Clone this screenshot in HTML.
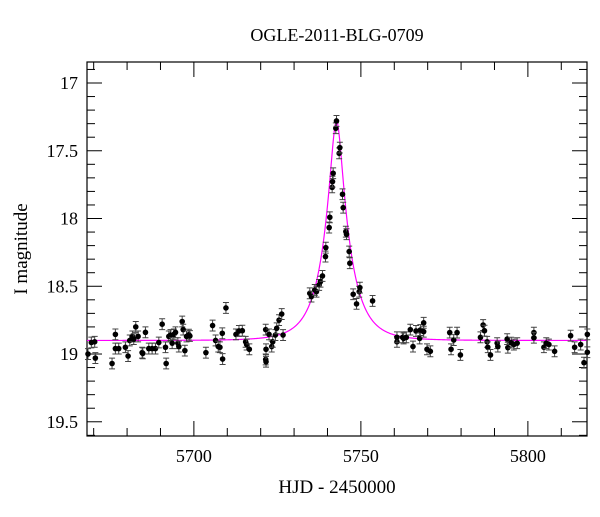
<!DOCTYPE html>
<html><head><meta charset="utf-8"><style>
html,body{margin:0;padding:0;background:#fff;}
svg text{font-family:"Liberation Serif",serif;fill:#000;}
</style></head><body>
<svg id="chart" width="600" height="512" xmlns="http://www.w3.org/2000/svg">
<text x="337" y="41" font-size="18" text-anchor="middle">OGLE-2011-BLG-0709</text>
<text x="337" y="493" font-size="19" text-anchor="middle">HJD - 2450000</text>
<text transform="translate(27,249) rotate(-90)" font-size="19" text-anchor="middle">I magnitude</text>
<g id="plot"></g>
</svg>
<script>
const days=[5668.3,5669.3,5670.3,5670.5,5675.5,5676.5,5676.5,5677.5,5679.5,5680.3,5680.8,5681.6,5682.0,5682.6,5683.3,5684.5,5684.7,5685.5,5686.5,5687.5,5688.5,5689.5,5690.5,5691.5,5691.7,5692.5,5693.0,5693.5,5694.0,5694.5,5695.2,5695.5,5696.5,5696.8,5697.3,5697.8,5698.5,5698.8,5703.6,5705.6,5706.5,5707.3,5707.8,5708.5,5708.6,5709.6,5712.6,5713.5,5714.5,5715.5,5715.8,5716.6,5721.5,5721.6,5721.5,5721.6,5722.5,5723.3,5723.6,5724.4,5724.8,5725.5,5726.3,5726.7,
5734.7,5735.2,5736.2,5736.7,5737.5,5737.9,5738.5,5739.4,5739.5,5740.5,5740.7,5741.4,5741.5,5741.7,5742.5,5742.7,5743.5,5743.7,5744.5,5744.7,5745.5,5745.7,5746.5,5746.7,5747.7,5748.7,5749.5,5749.7,5753.5,
5760.8,5760.8,5762.5,5762.8,5763.6,5764.8,5765.6,5766.5,5767.6,5767.8,5768.8,5768.8,5769.8,5770.8,5776.6,5777.0,5777.8,5778.8,5779.8,5785.8,5786.6,5787.0,5787.8,5788.0,5788.8,5790.8,5791.0,5793.8,5794.0,5795.0,5795.8,5796.8,5801.8,5801.8,5804.8,5805.5,5806.3,5808.0,5812.8,5814.0,5815.8,5816.8,5817.8,5817.8];
const mags=[19.00,18.915,18.91,19.03,19.07,18.855,18.96,18.96,18.95,19.015,18.90,18.87,18.89,18.80,18.87,18.99,18.995,18.84,18.96,18.96,18.96,18.915,18.78,18.95,19.07,18.87,18.86,18.92,18.855,18.84,18.92,18.945,18.76,18.82,18.975,18.87,18.857,18.867,18.99,18.79,18.90,18.945,18.95,18.847,19.037,18.66,18.855,18.83,18.828,18.91,18.93,18.965,18.82,18.965,19.04,19.057,18.855,18.945,18.91,18.86,18.81,18.75,18.705,18.86,
18.552,18.576,18.527,18.54,18.49,18.466,18.424,18.281,18.215,18.067,17.991,17.77,17.728,17.666,17.334,17.28,17.519,17.477,17.821,17.92,18.097,18.116,18.244,18.33,18.559,18.63,18.54,18.51,18.608,
18.91,18.877,18.877,18.885,18.877,18.82,18.945,18.83,18.885,18.823,18.77,18.835,18.965,18.98,18.842,18.965,18.897,18.842,19.007,18.877,18.786,18.828,18.91,18.95,19.007,18.92,18.945,18.89,18.953,18.916,18.93,18.92,18.842,18.88,18.95,18.92,18.93,18.98,18.865,18.95,18.93,19.064,18.855,18.987];
const errs=0.04;
const xTicks=[5700,5750,5800];
const yTicks=[17,17.5,18,18.5,19,19.5];
const model={t0:5742.7,u0:0.23,tE:7.5,base:18.9};

const L=87,R=587,T=62,B=436;
const X0=5668.0,X1=5817.7,Y0=16.845,Y1=19.605;
const sx=v=>L+(v-X0)/(X1-X0)*(R-L);
const sy=v=>T+(v-Y0)/(Y1-Y0)*(B-T);
const NS="http://www.w3.org/2000/svg";
const g=document.getElementById('plot');
function mk(tag,attrs){const e=document.createElementNS(NS,tag);for(const k in attrs)e.setAttribute(k,attrs[k]);g.appendChild(e);return e;}

const fr=mk('rect',{x:L,y:T,width:R-L,height:B-T,fill:'none',stroke:'#000','stroke-width':1.2});



for(let v=5670;v<=5817;v+=10){
  const x=sx(v);const len=(v%50===0)?15:8;
  const t1=mk('line',{x1:x,y1:B,x2:x,y2:B-len,stroke:'#000','stroke-width':1});
  
  
  const t2=mk('line',{x1:x,y1:T,x2:x,y2:T+len,stroke:'#000','stroke-width':1});
  
  
}
xTicks.forEach(v=>{
  const t=mk('text',{x:sx(v),y:B+26,'font-size':18,'text-anchor':'middle'});
  t.textContent=String(v);
  
  
});
for(let i=169;i<=196;i++){
  const v=i/10;const y=sy(v);const len=(i%5===0)?15:8;
  const t1=mk('line',{x1:L,y1:y,x2:L+len,y2:y,stroke:'#000','stroke-width':1});
  
  
  const t2=mk('line',{x1:R,y1:y,x2:R-len,y2:y,stroke:'#000','stroke-width':1});
  
  
}
yTicks.forEach(v=>{
  const t=mk('text',{x:L-9,y:sy(v)+6,'font-size':18,'text-anchor':'end'});
  t.textContent=String(v);
  
  
});

function magAt(t){const u=Math.sqrt(model.u0*model.u0+Math.pow((t-model.t0)/model.tE,2));const A=(u*u+2)/(u*Math.sqrt(u*u+4));return model.base-2.5*Math.log10(A);}
let d='';
for(let t=X0;t<=X1;t+=0.1){d+=(d?'L':'M')+sx(t).toFixed(2)+','+sy(magAt(t)).toFixed(2);}
const cp=mk('path',{d:d,fill:'none',stroke:'#ff00ff','stroke-width':1.2});



days.forEach((t,i)=>{
  const x=sx(t),y=sy(mags[i]),y1=sy(mags[i]-errs),y2=sy(mags[i]+errs);
  const eb=mk('path',{d:`M${x},${y1}L${x},${y2}M${x-3},${y1}L${x+3},${y1}M${x-3},${y2}L${x+3},${y2}`,stroke:'#444','stroke-width':1,fill:'none'});
  
  
  const c=mk('circle',{cx:x,cy:y,r:2.8,fill:'#000'});
  
  
});
</script>
</body></html>
